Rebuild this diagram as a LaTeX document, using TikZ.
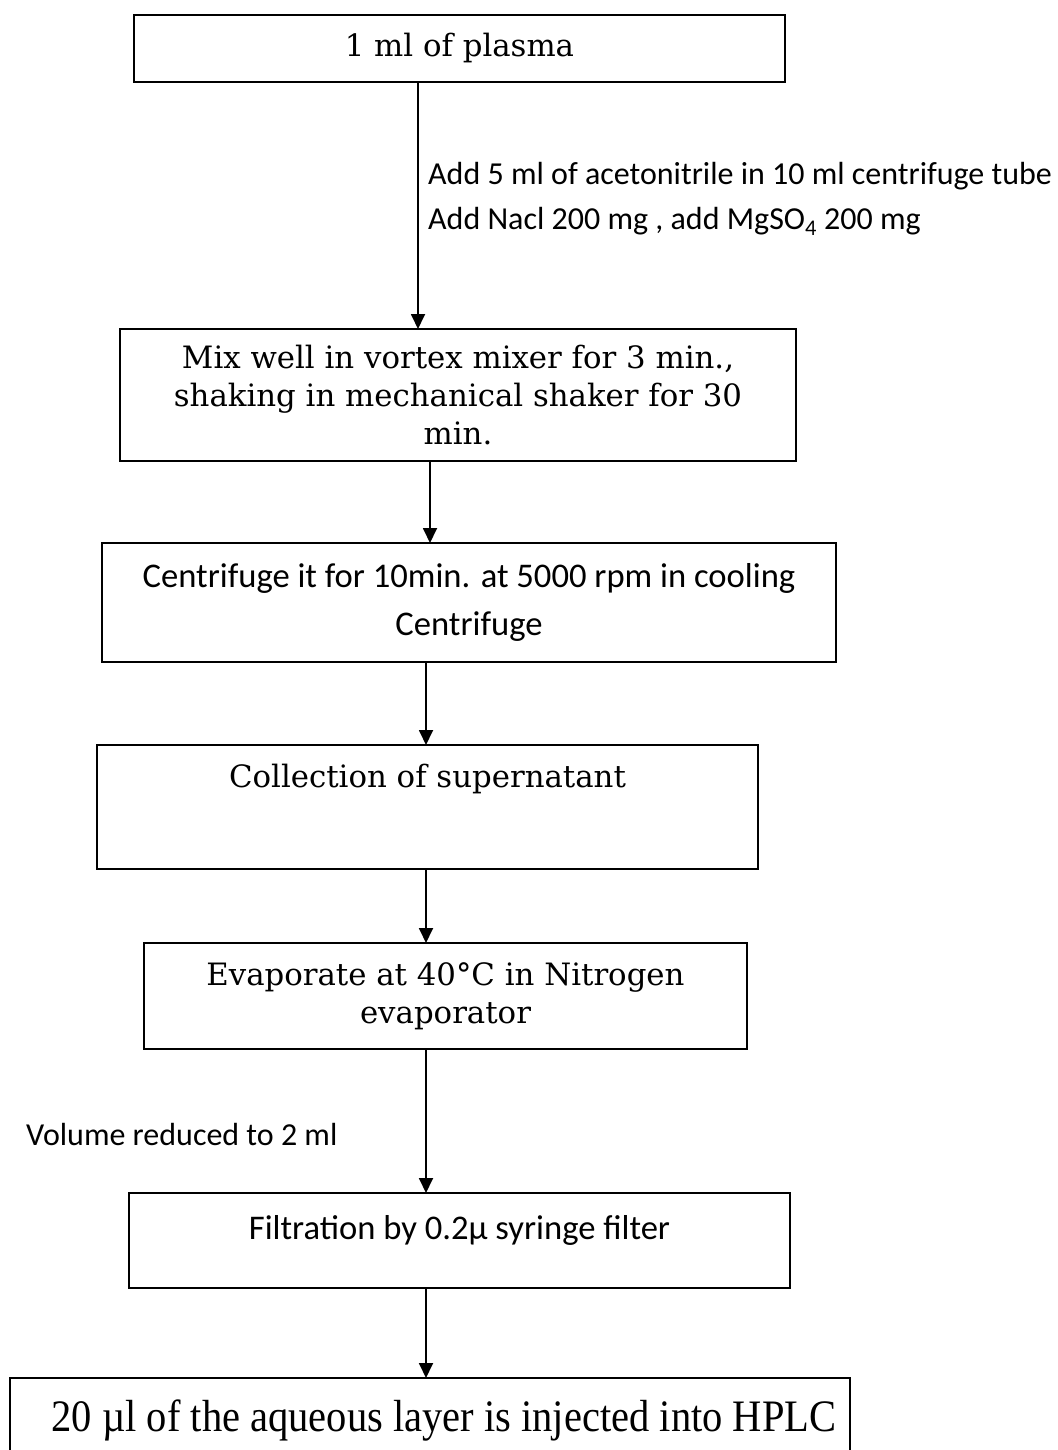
\documentclass[tikz,border=0pt]{standalone}
\usepackage{fontspec}
\setmainfont{DejaVu Serif}
\newfontfamily\stepsans{Carlito}
\newfontfamily\stepnarrow[FakeStretch=0.9]{Liberation Serif}
\usetikzlibrary{arrows.meta,positioning}

\begin{document}
\begin{tikzpicture}[x=1pt,y=-1pt,
  stepbox/.style={draw,line width=1.4pt,inner sep=0pt,outer sep=0pt,align=center},
  serifstep/.style={font=\fontsize{30.8}{38}\selectfont},
  sansstep/.style={font=\stepsans\fontsize{34.6}{48}\selectfont},
  notetext/.style={anchor=west,inner sep=0pt,align=left,font=\stepsans\fontsize{32}{45}\selectfont},
  flow/.style={-{Triangle[width=14pt,length=15pt]},line width=1.8pt}]
\useasboundingbox (0,0) rectangle (1057,1450);

% boxes of the procedure
\node[stepbox,serifstep,minimum width=651pt,minimum height=67pt] (plasma) at (459.5,48.5) {1 ml of plasma};
\node[stepbox,serifstep,minimum width=676pt,minimum height=132pt] (mixing) at (458,395) {Mix well in vortex mixer for 3 min.,\\ shaking in mechanical shaker for 30\\ min.};
\node[stepbox,sansstep,minimum width=734pt,minimum height=119pt] (centri) at (469,602.5) {Centrifuge it for 10min. at 5000 rpm in cooling\\ Centrifuge};
\node[stepbox,serifstep,minimum width=661pt,minimum height=124pt] (super) at (427.5,807) {Collection of supernatant\\[24pt]\mbox{}};
\node[stepbox,serifstep,minimum width=603pt,minimum height=106pt] (evap) at (445.5,996) {Evaporate at 40°C in Nitrogen\\ evaporator};
\node[stepbox,sansstep,minimum width=661pt,minimum height=95pt] (filt) at (459.5,1240.5) {Filtration by 0.2µ syringe filter\\[-22pt]\mbox{}};
\node[stepbox,font=\stepnarrow\fontsize{45}{50}\selectfont,minimum width=840pt,minimum height=84pt] (hplc) at (430,1420) {\hspace*{28pt}20 µl of the aqueous layer is injected into HPLC};

% arrows
\foreach \a/\b/\x in {plasma/mixing/418,mixing/centri/430,centri/super/426,super/evap/426,evap/filt/426,filt/hplc/426}{
  \coordinate (ax) at (\x,0);
  \draw[flow] (\a.south -| ax) -- (\b.north -| ax);
}

% side notes
\node[notetext] (addnote) at (428,198.5) {Add 5 ml of acetonitrile in 10 ml centrifuge tube\\ Add Nacl 200 mg , add MgSO\textsubscript{4} 200 mg};
\node[notetext] (volnote) at (26,1134) {Volume reduced to 2 ml};
\end{tikzpicture}
\end{document}
